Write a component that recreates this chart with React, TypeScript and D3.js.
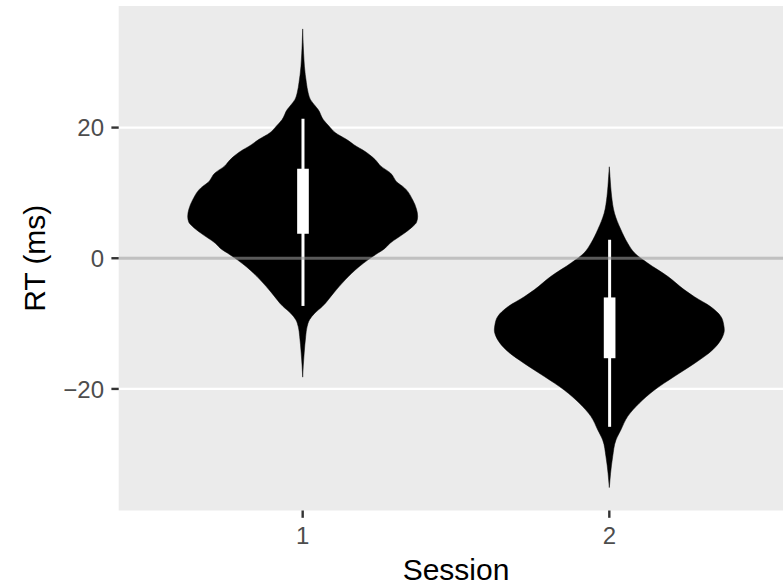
import React from "react";
import * as d3 from "d3";

// Session labels on the x axis
const sessions = ["1", "2"];

// Violin outlines: RT value (ms) and relative density (1 = widest point)
const session1Rt = [35.1, 33, 31.4, 29.4, 26.9, 25.3, 24.3, 23.3, 22.8, 21.2, 20.2, 19.2, 18.2, 17.1, 16.6, 15.1, 14.1, 13.1, 11.5, 11.0, 9.0, 7.5, 6.4, 5.5, 4.9, 3.9, 2.3, 1.3, 0.8, -1.3, -3.3, -5.3, -7.4, -8.4, -9.4, -10.5, -12.0, -14.5, -16.5, -18.2];
const session1Density = [0, 0.004, 0.008, 0.015, 0.032, 0.048, 0.067, 0.11, 0.133, 0.18, 0.23, 0.285, 0.38, 0.47, 0.52, 0.63, 0.68, 0.76, 0.83, 0.87, 0.955, 0.99, 1.0, 0.99, 0.96, 0.89, 0.76, 0.7, 0.655, 0.49, 0.37, 0.27, 0.17, 0.105, 0.06, 0.038, 0.026, 0.013, 0.005, 0];

const session2Rt = [14.0, 12.5, 11, 9.5, 6.9, 4.4, 2.3, 0.8, -0.7, -2.8, -4.8, -5.9, -7.4, -8.9, -10.2, -11.0, -12.0, -12.5, -14.0, -16.1, -18.1, -20.2, -22.2, -24.2, -26.3, -27.8, -30.4, -32.9, -35.1];
const session2Density = [0, 0.006, 0.012, 0.02, 0.045, 0.1, 0.16, 0.22, 0.33, 0.51, 0.65, 0.74, 0.88, 0.97, 0.995, 1.0, 0.985, 0.97, 0.9, 0.74, 0.565, 0.39, 0.26, 0.16, 0.1, 0.058, 0.029, 0.011, 0];

// Box-plot summaries per session
const whiskerLow = [-7.3, -25.8];
const quartile1 = [3.75, -15.3];
const quartile3 = [13.7, -6.0];
const whiskerHigh = [21.35, 2.85];

const yTicks = [-20, 0, 20];

const W = 783;
const H = 588;
const panel = { left: 118.7, right: 793.3, top: 6, bottom: 510.5 };
const FONT = "'Liberation Sans', Arial, Helvetica, sans-serif";

export default function App() {
  const violins = [
    { rt: session1Rt, dens: session1Density },
    { rt: session2Rt, dens: session2Density },
  ];

  const allRt = [...session1Rt, ...session2Rt];
  const [lo, hi] = d3.extent(allRt) as [number, number];
  const pad = (hi - lo) * 0.05;

  const y = d3.scaleLinear().domain([lo - pad, hi + pad]).range([panel.bottom, panel.top]);
  const x = d3.scalePoint<string>().domain(sessions).range([panel.left, panel.right]).padding(0.6);
  const step = x.step();
  const halfMax = 0.375 * step;
  const w = d3.scaleLinear().domain([0, 1]).range([0, halfMax]);
  const boxHalf = 0.019 * step;

  return (
    <svg
      width={W}
      height={H}
      style={{ position: "absolute", left: 0, top: 0, display: "block", background: "#fff" }}
      fontFamily={FONT}
    >
      <defs>
        <clipPath id="panel-clip">
          <rect x={panel.left} y={panel.top} width={panel.right - panel.left} height={panel.bottom - panel.top} />
        </clipPath>
      </defs>
      <rect x={panel.left} y={panel.top} width={panel.right - panel.left} height={panel.bottom - panel.top} fill="#EBEBEB" />
      {yTicks.map((t) => (
        <line key={t} x1={panel.left} x2={panel.right} y1={y(t)} y2={y(t)} stroke="#fff" strokeWidth={2.4} />
      ))}
      <g clipPath="url(#panel-clip)">
        {violins.map((v, i) => {
          const cx = x(sessions[i]) as number;
          const pts = v.rt.map((r, k) => ({ r, d: v.dens[k] }));
          const area = d3
            .area<{ r: number; d: number }>()
            .y((p) => y(p.r))
            .x0((p) => cx - w(p.d))
            .x1((p) => cx + w(p.d))
            .curve(d3.curveMonotoneY);
          return <path key={i} d={area(pts) || ""} fill="#000" stroke="#000" strokeWidth={0.5} />;
        })}
        {sessions.map((s, i) => {
          const cx = (x(s) as number) + 0.3;
          return (
            <g key={s}>
              <line x1={cx} x2={cx} y1={y(whiskerHigh[i])} y2={y(whiskerLow[i])} stroke="#fff" strokeWidth={3} />
              <rect
                x={cx - boxHalf}
                y={y(quartile3[i])}
                width={boxHalf * 2}
                height={y(quartile1[i]) - y(quartile3[i])}
                fill="#fff"
              />
            </g>
          );
        })}
        <line
          x1={panel.left}
          x2={panel.right}
          y1={y(0)}
          y2={y(0)}
          stroke="#969696"
          strokeOpacity={0.6}
          strokeWidth={3}
        />
      </g>
      {yTicks.map((t) => (
        <g key={t}>
          <line x1={panel.left - 7.3} x2={panel.left} y1={y(t)} y2={y(t)} stroke="#333" strokeWidth={2.4} />
          <text x={104} y={y(t)} dy="0.36em" textAnchor="end" fontSize={24} fill="#4D4D4D">
            {d3.format("d")(t)}
          </text>
        </g>
      ))}
      {sessions.map((s) => (
        <g key={s}>
          <line x1={x(s)} x2={x(s)} y1={panel.bottom} y2={panel.bottom + 7.3} stroke="#333" strokeWidth={2.4} />
          <text x={x(s)} y={543.5} textAnchor="middle" fontSize={24} fill="#4D4D4D">
            {s}
          </text>
        </g>
      ))}
      <text x={(panel.left + panel.right) / 2} y={580} textAnchor="middle" fontSize={30} fill="#000">
        Session
      </text>
      <text
        transform={`translate(45, ${(panel.top + panel.bottom) / 2}) rotate(-90)`}
        textAnchor="middle"
        fontSize={30}
        fill="#000"
      >
        RT (ms)
      </text>
    </svg>
  );
}
